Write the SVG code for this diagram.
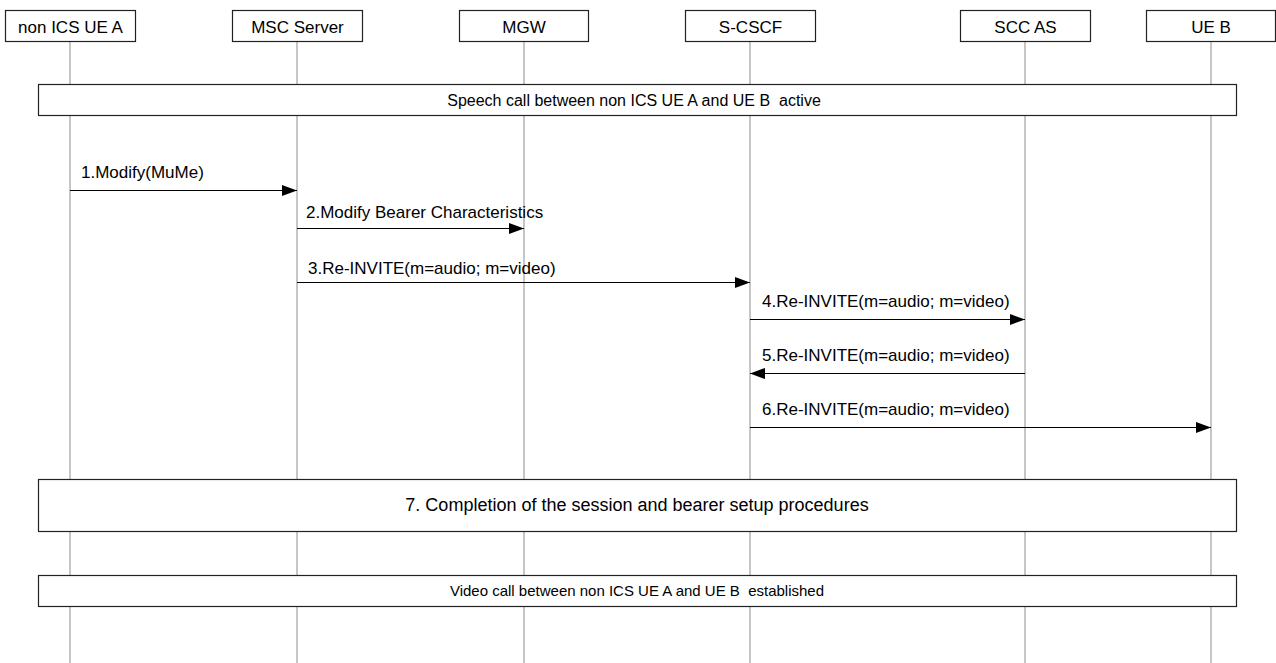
<svg xmlns="http://www.w3.org/2000/svg" width="1276" height="663" viewBox="0 0 1276 663">
<style>
.box{fill:#fff;stroke:#222;stroke-width:1.2}
.life{stroke:#a0a0a0;stroke-width:1.2}
.msg{stroke:#000;stroke-width:1}
text{font-family:"Liberation Sans",Arial,sans-serif;font-size:17px;fill:#000}
.c{text-anchor:middle}
</style>
<defs>
<marker id="ah" markerWidth="15" markerHeight="11" refX="15" refY="5.5" orient="auto" markerUnits="userSpaceOnUse">
<path d="M0,0 L15,5.5 L0,11 Z" fill="#000"/>
</marker>
</defs>
<rect width="1276" height="663" fill="#fff"/>
<g id="lifelines">
<line class="life" x1="70" y1="41" x2="70" y2="663"/>
<line class="life" x1="297" y1="41" x2="297" y2="663"/>
<line class="life" x1="524" y1="41" x2="524" y2="663"/>
<line class="life" x1="750" y1="41" x2="750" y2="663"/>
<line class="life" x1="1025" y1="41" x2="1025" y2="663"/>
<line class="life" x1="1211" y1="41" x2="1211" y2="663"/>
</g>
<g id="node-ueA"><rect class="box" x="5.5" y="10.5" width="130" height="31"/><text class="c" x="70.5" y="33">non ICS UE A</text></g>
<g id="node-msc"><rect class="box" x="232.5" y="10.5" width="130" height="31"/><text class="c" x="297.5" y="33">MSC Server</text></g>
<g id="node-mgw"><rect class="box" x="459.5" y="10.5" width="129" height="31"/><text class="c" x="524" y="33">MGW</text></g>
<g id="node-scscf"><rect class="box" x="685.5" y="10.5" width="130" height="31"/><text class="c" x="750.5" y="33">S-CSCF</text></g>
<g id="node-sccas"><rect class="box" x="960.5" y="10.5" width="130" height="31"/><text class="c" x="1025.5" y="33">SCC AS</text></g>
<g id="node-ueB"><rect class="box" x="1146.5" y="10.5" width="129" height="31"/><text class="c" x="1211" y="33">UE B</text></g>
<g id="node-speech"><rect class="box" x="38.5" y="84.5" width="1198" height="31"/><text class="c" x="634" y="106" style="font-size:16px" xml:space="preserve">Speech call between non ICS UE A and UE B  active</text></g>
<g id="node-completion"><rect class="box" x="38.5" y="479.5" width="1198" height="52"/><text class="c" x="637" y="511" style="font-size:18px">7. Completion of the session and bearer setup procedures</text></g>
<g id="node-video"><rect class="box" x="38.5" y="575.5" width="1198" height="31"/><text class="c" x="637" y="596" style="font-size:15px" xml:space="preserve">Video call between non ICS UE A and UE B  established</text></g>
<g id="connectors">
<line class="msg" x1="70" y1="190.5" x2="297" y2="190.5" marker-end="url(#ah)"/>
<text x="81" y="178">1.Modify(MuMe)</text>
<line class="msg" x1="297" y1="228.5" x2="524" y2="228.5" marker-end="url(#ah)"/>
<text x="306" y="218">2.Modify Bearer Characteristics</text>
<line class="msg" x1="297" y1="282.5" x2="750" y2="282.5" marker-end="url(#ah)"/>
<text x="308" y="274">3.Re-INVITE(m=audio; m=video)</text>
<line class="msg" x1="750" y1="319.5" x2="1025" y2="319.5" marker-end="url(#ah)"/>
<text x="762" y="307">4.Re-INVITE(m=audio; m=video)</text>
<line class="msg" x1="1025" y1="373.5" x2="750" y2="373.5" marker-end="url(#ah)"/>
<text x="762" y="361">5.Re-INVITE(m=audio; m=video)</text>
<line class="msg" x1="750" y1="427.5" x2="1211" y2="427.5" marker-end="url(#ah)"/>
<text x="762" y="415">6.Re-INVITE(m=audio; m=video)</text>
</g>
</svg>
